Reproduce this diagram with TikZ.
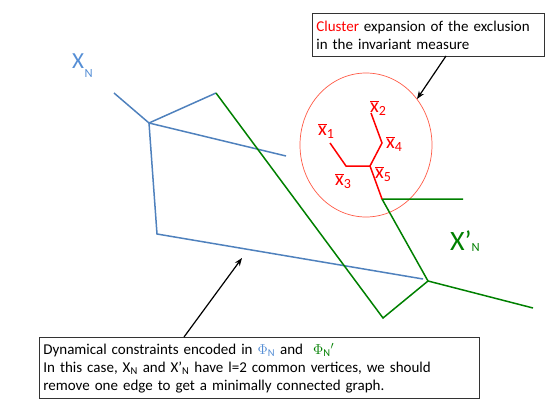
\documentclass[tikz,border=0pt]{standalone}
\usepackage{fontspec}
\setmainfont{Carlito}
\usetikzlibrary{arrows.meta,shapes.geometric}
\definecolor{bl}{RGB}{79,129,189}
\definecolor{blt}{RGB}{85,142,213}
\definecolor{gr}{RGB}{0,128,0}
\definecolor{rd}{RGB}{255,0,0}
\definecolor{circ}{RGB}{255,90,70}
\tikzset{
  bline/.style={draw=bl, line width=1.5pt},
  gline/.style={draw=gr, line width=1.5pt},
  rline/.style={draw=rd, line width=1.5pt},
  lbl/.style={text=rd, anchor=base west, inner sep=0pt, font=\fontsize{20}{20}\selectfont},
  callout/.style={draw=black!80, line width=0.8pt, fill=white, inner sep=0pt},
  pointer/.style={draw=black, line width=1.2pt, -{Stealth[length=8pt,width=6pt]}}
}
\newcommand{\xb}[1]{$\overline{\mbox{x}}$\textsubscript{#1}}
\begin{document}
\begin{tikzpicture}[x=1pt,y=-1pt]
\useasboundingbox (0,0) rectangle (554,415);
% vertices
\coordinate (b1) at (114,93);
\coordinate (b2) at (149,123);
\coordinate (b3) at (216,93);
\coordinate (b4) at (286,156);
\coordinate (b5) at (157,234);
\coordinate (b6) at (423,279);
\coordinate (g2) at (383,318);
\coordinate (g3) at (428,281);
\coordinate (g4) at (533,308);
\coordinate (g5) at (382,199);
\coordinate (g6) at (463,199);
\coordinate (r1) at (330,143);
\coordinate (r2) at (371,113);
\coordinate (r3) at (346,166);
\coordinate (r4) at (382,143);
\coordinate (r5) at (370,166);
% circle
\node[draw=circ, line width=0.7pt, ellipse, minimum width=132pt, minimum height=144pt, inner sep=0pt] (cl) at (366,145) {};
% blue graph
\draw[bline] (b1) -- (b2) -- (b3);
\draw[bline] (b2) -- (b4);
\draw[bline] (b2) -- (b5) -- (b6);
% green graph
\draw[gline] (b3) -- (g2) -- (g3) -- (g4);
\draw[gline] (g3) -- (g5) -- (g6);
% red graph
\draw[rline] (r2) -- (r4) -- (r5) -- (g5);
\draw[rline] (r1) -- (r3) -- (r5);
% red labels
\node[lbl] (l1) at (318,135) {\xb{1}};
\node[lbl] (l2) at (370,112) {\xb{2}};
\node[lbl] (l3) at (335,185) {\xb{3}};
\node[lbl] (l4) at (386,148) {\xb{4}};
\node[lbl] (l5) at (375,178) {\xb{5}};
% graph labels
\node[text=blt, anchor=base west, inner sep=0pt, font=\fontsize{23}{23}\selectfont] (xn) at (72,68) {X\kern0.5pt\raisebox{-9pt}{\fontsize{12.5}{12.5}\selectfont N}};
\node[text=gr, anchor=base west, inner sep=0pt, font=\fontsize{28}{28}\selectfont] (xpn) at (450,250) {X’\raisebox{-1pt}{\fontsize{12.5}{12.5}\selectfont N}};
% callouts
\node[callout, anchor=north west, minimum width=232pt, minimum height=43pt, text width=226pt, align=left, font=\fontsize{15}{18}\selectfont] (top) at (312,13) {\hspace*{1pt}\textcolor{rd}{Cluster} expansion of the exclusion\\\hspace*{1pt}in the invariant measure};
\node[callout, anchor=north west, minimum width=440pt, minimum height=61pt, text width=434pt, align=left, font=\fontsize{15}{18}\selectfont] (bot) at (39,337) {\hspace*{1pt}Dynamical constraints encoded in \textcolor{blt}{$\Phi_{\mathrm{N}}$} and \ \textcolor{gr}{$\Phi_{\mathrm{N}}{}^{\prime}$}\\\hspace*{1pt}In this case, X\textsubscript{N} and X’\textsubscript{N} have l=2 common vertices, we should\\\hspace*{1pt}remove one edge to get a minimally connected graph.};
% pointers
\coordinate (ta) at (446,56);
\coordinate (tb) at (417,99);
\coordinate (ba) at (184,337);
\coordinate (bb) at (242,258);
\draw[pointer] (ta) -- (tb);
\draw[pointer] (ba) -- (bb);
\end{tikzpicture}
\end{document}
